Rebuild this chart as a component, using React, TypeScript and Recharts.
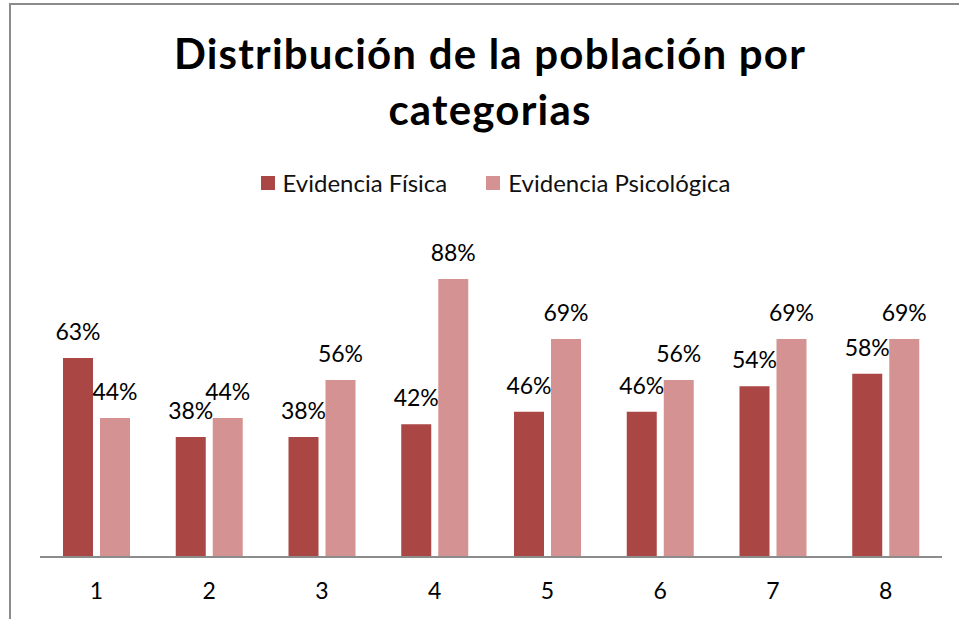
import { BarChart, Bar, XAxis, YAxis, LabelList } from 'recharts';

const CATEGORIES = ['1', '2', '3', '4', '5', '6', '7', '8'];
const FISICA = [63, 38, 38, 42, 46, 46, 54, 58];
const PSICOLOGICA = [44, 44, 56, 88, 69, 56, 69, 69];

const SERIES = [
  { key: 'fisica', name: 'Evidencia Física', color: '#AA4643' },
  { key: 'psico', name: 'Evidencia Psicológica', color: '#D49392' }
];

const FONT = 'Lato, "Open Sans", sans-serif';

const data = CATEGORIES.map((c, i) => ({ cat: c, fisica: FISICA[i], psico: PSICOLOGICA[i] }));

function LegendBox() {
  return (
    <div style={{ display: 'flex', justifyContent: 'center', paddingLeft: 32, fontFamily: FONT, fontSize: 24, color: '#111' }}>
      {SERIES.map((s, i) => (
        <div key={s.key} style={{ display: 'flex', alignItems: 'center', marginRight: i === 0 ? 39 : 0 }}>
          <span style={{ width: 14, height: 14, background: s.color, display: 'inline-block', marginRight: 8 }} />
          <span>{s.name}</span>
        </div>
      ))}
    </div>
  );
}

export default function App() {
  return (
    <div style={{ position: 'absolute', left: 0, top: 0, width: 959, height: 619, overflow: 'hidden', background: '#fff' }}>
      <div style={{ position: 'absolute', left: 9, top: 3, width: 950, height: 616, borderLeft: '2px solid #8c8c8c', borderTop: '2px solid #8c8c8c' }} />
      <div style={{ position: 'absolute', left: 0, top: 25, width: 980, textAlign: 'center', fontFamily: FONT, fontWeight: 700, fontSize: 42, letterSpacing: 1.2, lineHeight: '56px', color: '#000' }}>
        Distribución de la población por<br />categorias
      </div>
      <div style={{ position: 'absolute', left: 0, top: 168, width: 959 }}>
        <LegendBox />
      </div>
      <div style={{ position: 'absolute', left: 0, top: 0 }}>
        <BarChart width={959} height={619} data={data} margin={{ top: 241, right: 17, bottom: 0, left: 40 }} barSize={30} barGap={7}>
          <XAxis dataKey="cat" height={62} tickSize={0} tickMargin={26} axisLine={{ stroke: '#8c8c8c', strokeWidth: 2 }}
                 tick={{ fontSize: 23, fill: '#000', fontFamily: FONT }} />
          <YAxis hide domain={[0, 100]} />
          {SERIES.map((s) => (
            <Bar key={s.key} dataKey={s.key} name={s.name} fill={s.color} isAnimationActive={false}>
              <LabelList dataKey={s.key} position="top" offset={18} formatter={(v: number) => `${v}%`}
                         style={{ fontSize: 23, fill: '#000', fontFamily: FONT }} />
            </Bar>
          ))}
        </BarChart>
      </div>
    </div>
  );
}
